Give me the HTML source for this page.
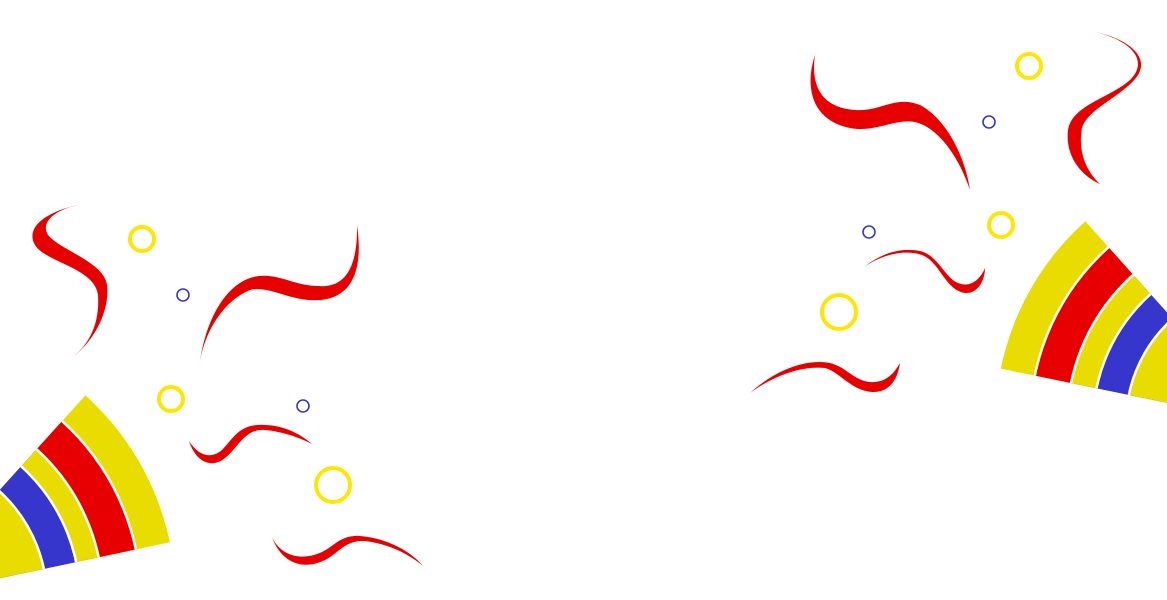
<!DOCTYPE html>
<html><head><meta charset="utf-8"><style>html,body{margin:0;padding:0;background:#fff;width:1167px;height:600px;overflow:hidden}svg{display:block;overflow:hidden}</style></head>
<body>
<svg width="1167" height="600" viewBox="0 0 1167 600">
<defs>
<clipPath id="cl"><polygon points="-99,599 280,519 150,324"/></clipPath>
<clipPath id="cr"><polygon points="1266,423 944,357 1051,183"/></clipPath>
</defs>
<g clip-path="url(#cl)" stroke="#fff" stroke-width="2.5">
<circle cx="-99" cy="599" r="276" fill="#e8dc00"/>
<circle cx="-99" cy="599" r="240" fill="#e60000"/>
<circle cx="-99" cy="599" r="202" fill="#e8dc00"/>
<circle cx="-99" cy="599" r="179" fill="#3636cc"/>
<circle cx="-99" cy="599" r="146" fill="#e8dc00"/>
</g>
<g clip-path="url(#cr)" stroke="#fff" stroke-width="2.5">
<circle cx="1266" cy="423" r="272" fill="#e8dc00"/>
<circle cx="1266" cy="423" r="236" fill="#e60000"/>
<circle cx="1266" cy="423" r="199" fill="#e8dc00"/>
<circle cx="1266" cy="423" r="173" fill="#3636cc"/>
<circle cx="1266" cy="423" r="140" fill="#e8dc00"/>
</g>
<g fill="#e60000">
<path d="M78,205 C45,212 25,228 35,245 C45,262 95,268 98,295 C100,325 88,345 73,357 C95,340 110,310 107,285 C104,262 60,250 48,235 C40,222 55,210 78,205 Z"/>
<path d="M200,362 C205,330 225,300 250,290 C270,285 290,302 320,300 C345,298 365,280 357,225 C358,275 340,288 318,286 C292,286 275,270 250,278 C222,288 205,325 200,362 Z"/>
<path d="M189,441 C195,460 210,470 225,458 C238,448 245,428 265,430 C285,432 300,438 312,444 C298,432 280,424 258,425 C238,426 232,440 222,450 C210,460 198,455 189,441 Z"/>
<path d="M272,537 C280,560 300,572 325,560 C340,552 345,540 365,541 C390,544 410,555 423,566 C410,550 385,538 360,536 C340,535 335,546 322,552 C300,562 280,555 272,537 Z"/>
<path d="M815,55 C805,85 810,120 850,128 C875,133 895,118 915,122 C940,128 960,160 970,190 C965,155 945,118 920,105 C895,95 880,112 855,110 C825,108 810,90 815,55 Z"/>
<path d="M1095,32 C1130,40 1150,60 1130,80 C1110,98 1072,105 1068,130 C1065,155 1080,175 1100,184 C1085,170 1078,150 1082,128 C1088,108 1125,95 1138,75 C1150,55 1125,38 1095,32 Z"/>
<path d="M860,270 C875,258 900,248 922,255 C940,262 945,290 965,293 C978,294 985,280 985,268 C980,280 970,288 958,283 C945,278 938,255 920,251 C895,246 875,258 860,270 Z"/>
<path d="M750,393 C770,378 800,365 825,368 C840,372 850,390 872,392 C890,393 898,378 900,363 C893,375 885,383 870,382 C850,380 845,362 820,362 C795,362 770,375 750,393 Z"/>
</g>
<g fill="none" stroke="#ffe600" stroke-width="4">
<circle cx="142" cy="239" r="12"/>
<circle cx="171" cy="399" r="12"/>
<circle cx="333" cy="485" r="17"/>
<circle cx="1029" cy="66" r="12"/>
<circle cx="1001" cy="225" r="12"/>
<circle cx="839" cy="312" r="17"/>
</g>
<g fill="none" stroke="#3636cc" stroke-width="1.6">
<circle cx="183" cy="295" r="6"/>
<circle cx="303" cy="406" r="6"/>
<circle cx="989" cy="122" r="6"/>
<circle cx="869" cy="232" r="6"/>
</g>
</svg>
</body></html>
